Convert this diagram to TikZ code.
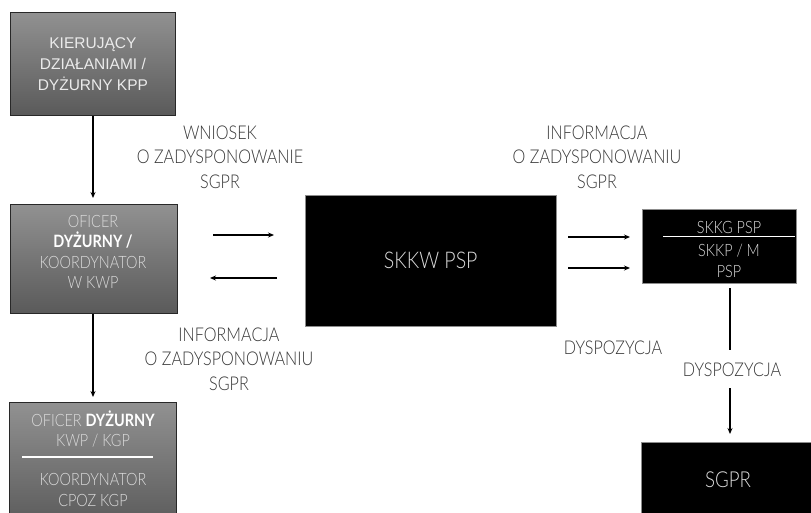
\documentclass[tikz,border=0pt]{standalone}
\usepackage{fontspec}
\setmainfont{Lato}
\newfontfamily\cond{Lato Light}[FakeStretch=0.85]
\newfontfamily\condb{Lato}[FakeStretch=0.85]
\newfontfamily\arialf{Liberation Sans}
\usetikzlibrary{arrows.meta}
\definecolor{boxtop}{RGB}{145,145,145}
\definecolor{boxbot}{RGB}{90,90,90}
\definecolor{boxedge}{RGB}{40,40,40}
\definecolor{lighttxt}{RGB}{220,220,220}
\definecolor{labtxt}{RGB}{55,55,55}
\definecolor{blkedge}{RGB}{140,140,140}
\tikzset{
  graybox/.style={draw=boxedge, line width=0.8pt, top color=boxtop, bottom color=boxbot, anchor=north west, inner sep=0pt, align=center, text=lighttxt},
  blackbox/.style={draw=blkedge, line width=0.5pt, fill=black, anchor=north west, inner sep=0pt, align=center, text=lighttxt},
  lab/.style={font=\cond\fontsize{19}{24.5}\selectfont, text=labtxt, align=center, inner sep=0pt},
  boxtxt/.style={font=\cond\fontsize{17}{20.5}\selectfont, text=lighttxt, align=center, inner sep=0pt},
  arr/.style={-{Stealth[length=6pt,width=5pt]}, line width=1.2pt, black},
  ln/.style={line width=1.2pt, black}
}
\begin{document}
\begin{tikzpicture}[x=1pt,y=-1pt]
\clip (0,0) rectangle (811,512);
\fill[white] (0,0) rectangle (811,512);
% left column
\node[graybox, minimum width=165pt, minimum height=103pt, text=white!92!black, font=\arialf\fontsize{15.5}{21}\selectfont] (kpp) at (10,12) {KIERUJĄCY\\DZIAŁANIAMI /\\DYŻURNY KPP};
\node[graybox, minimum width=167pt, minimum height=109pt] (kwp) at (10,204) {};
\node[boxtxt] (kwptxt) at (93,252) {OFICER\\{\condb\bfseries\color{white}DYŻURNY /}\\KOORDYNATOR\\W KWP};
\node[graybox, minimum width=167pt, minimum height=125pt] (kgp) at (9,402) {};
\node[boxtxt] (kgp1) at (93,429) {OFICER {\condb\bfseries\color{white}DYŻURNY}\\KWP / KGP};
\node[boxtxt] (kgp2) at (93,490) {KOORDYNATOR\\CPOZ KGP};
\draw[white, line width=1.2pt] (22,457) coordinate (sepA) -- (153,457) coordinate (sepB);
\draw[arr, shorten >=6pt] (kpp.south -| 93,0) -- (kwp.north -| 93,0);
\draw[arr, shorten >=5pt] (kwp.south -| 93,0) -- (kgp.north -| 93,0);
% center
\node[blackbox, minimum width=251pt, minimum height=131pt, font=\cond\fontsize{23}{26}\selectfont] (skkw) at (305,195) {SKKW PSP};
\coordinate (a1s) at (213,235); \coordinate (a1e) at (274,235);
\coordinate (a2s) at (277,278); \coordinate (a2e) at (210,278);
\draw[arr] (a1s) -- (a1e);
\draw[arr] (a2s) -- (a2e);
\node[lab] (wn) at (220,157) {WNIOSEK\\O ZADYSPONOWANIE\\SGPR};
\node[lab] (inf1) at (229,359) {INFORMACJA\\O ZADYSPONOWANIU\\SGPR};
\node[lab] (inf2) at (597,157) {INFORMACJA\\O ZADYSPONOWANIU\\SGPR};
% right
\node[blackbox, minimum width=154pt, minimum height=74pt] (skkg) at (642,209) {};
\node[boxtxt] (skkg1) at (729,227) {SKKG PSP};
\draw[white, line width=1.2pt] (663,236.5) coordinate (sepC) -- (795,236.5) coordinate (sepD);
\node[boxtxt] (skkg2) at (729,261) {SKKP / M\\PSP};
\coordinate (a3s) at (568,237); \coordinate (a3e) at (630,237);
\coordinate (a4s) at (568,268); \coordinate (a4e) at (630,268);
\draw[arr] (a3s) -- (a3e);
\draw[arr] (a4s) -- (a4e);
\node[lab] (dys1) at (613,348) {DYSPOZYCJA};
\node[lab] (dys2) at (732,370) {DYSPOZYCJA};
\coordinate (v1s) at (730,288); \coordinate (v1e) at (730,350);
\coordinate (v2s) at (730,388); \coordinate (v2e) at (730,434);
\draw[ln] (v1s) -- (v1e);
\draw[arr] (v2s) -- (v2e);
\node[blackbox, minimum width=175pt, minimum height=80pt] (sgpr) at (641,442) {};
\node[font=\cond\fontsize{22}{25}\selectfont, text=lighttxt, inner sep=0pt] (sgprtxt) at (728,480) {SGPR};
\end{tikzpicture}
\end{document}
